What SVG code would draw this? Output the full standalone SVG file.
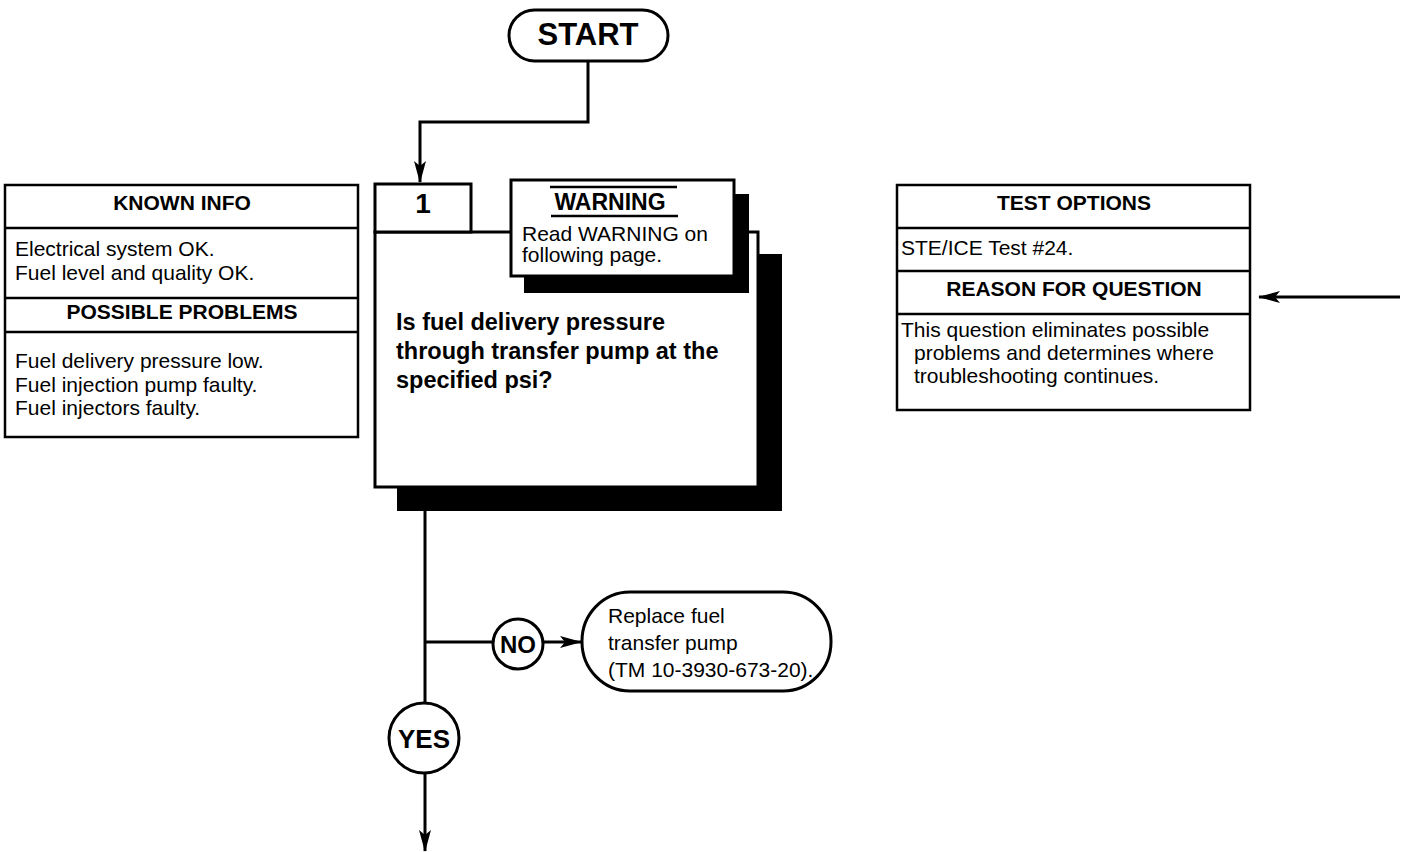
<svg xmlns="http://www.w3.org/2000/svg" width="1404" height="852" viewBox="0 0 1404 852">
  <defs>
    <style>
      text { font-family: "Liberation Sans", Arial, Helvetica, sans-serif; fill: #000; }
      .body { font-size: 21px; }
      .hdr { font-size: 21px; font-weight: bold; text-anchor: middle; }
      .q { font-size: 23.5px; font-weight: bold; }
      .box { fill: #fff; stroke: #000; stroke-width: 2.5; }
      .thick { fill: #fff; stroke: #000; stroke-width: 3; }
      .shadow { fill: #000; stroke: none; }
      .wire { fill: none; stroke: #000; stroke-width: 3; }
      .rule { stroke: #000; stroke-width: 2.5; }
    </style>
    <marker id="arrow" viewBox="0 0 22 12" markerWidth="22" markerHeight="12" refX="21" refY="6" orient="auto" markerUnits="userSpaceOnUse">
      <path d="M0,0 L22,6 L0,12 L5,6 z" fill="#000"/>
    </marker>
  </defs>

  <rect width="1404" height="852" fill="#fff"/>

  <!-- connectors -->
  <g id="connectors">
    <polyline class="wire" points="588,61 588,122 420,122 420,182" marker-end="url(#arrow)"/>
    <line class="wire" x1="425" y1="487" x2="425" y2="703"/>
    <line class="wire" x1="425" y1="642" x2="493" y2="642"/>
    <line class="wire" x1="543" y1="642" x2="581" y2="642" marker-end="url(#arrow)"/>
    <line class="wire" x1="425" y1="773" x2="425" y2="851" marker-end="url(#arrow)"/>
    <line class="wire" x1="1400" y1="297" x2="1259" y2="297" stroke-width="2.5" marker-end="url(#arrow)"/>
  </g>

  <!-- start terminal -->
  <g id="start">
    <rect class="thick" x="509" y="10" width="159" height="51" rx="25.5" ry="25.5"/>
    <text x="588" y="45" font-size="31" font-weight="bold" text-anchor="middle">START</text>
  </g>

  <!-- question 1 with drop shadow -->
  <g id="q1">
    <rect class="shadow" x="397" y="254" width="385" height="257"/>
    <rect class="thick" x="375" y="232" width="383" height="255"/>
    <rect class="thick" x="375" y="184" width="96" height="48"/>
    <text x="423" y="213" font-size="28" font-weight="bold" text-anchor="middle">1</text>
    <text class="q" x="396" y="330">Is fuel delivery pressure</text>
    <text class="q" x="396" y="359">through transfer pump at the</text>
    <text class="q" x="396" y="388">specified psi?</text>
  </g>

  <!-- warning callout -->
  <g id="warning">
    <rect class="shadow" x="524" y="194" width="225" height="99"/>
    <rect class="thick" x="511" y="180" width="223" height="96"/>
    <line class="rule" x1="550" y1="187" x2="677" y2="187"/>
    <text x="610" y="210" font-size="23" font-weight="bold" text-anchor="middle">WARNING</text>
    <line class="rule" x1="551" y1="216" x2="678" y2="216"/>
    <text class="body" x="522" y="241">Read WARNING on</text>
    <text class="body" x="522" y="262">following page.</text>
  </g>

  <!-- known info / possible problems -->
  <g id="known-info">
    <rect class="box" x="5" y="185" width="353" height="252"/>
    <line class="rule" x1="5" y1="228" x2="358" y2="228"/>
    <line class="rule" x1="5" y1="298" x2="358" y2="298"/>
    <line class="rule" x1="5" y1="332" x2="358" y2="332"/>
    <text class="hdr" x="182" y="210">KNOWN INFO</text>
    <text class="body" x="15" y="256">Electrical system OK.</text>
    <text class="body" x="15" y="280">Fuel level and quality OK.</text>
    <text class="hdr" x="182" y="319">POSSIBLE PROBLEMS</text>
    <text class="body" x="15" y="368">Fuel delivery pressure low.</text>
    <text class="body" x="15" y="392">Fuel injection pump faulty.</text>
    <text class="body" x="15" y="415">Fuel injectors faulty.</text>
  </g>

  <!-- test options / reason for question -->
  <g id="test-options">
    <rect class="box" x="897" y="185" width="353" height="225"/>
    <line class="rule" x1="897" y1="228" x2="1250" y2="228"/>
    <line class="rule" x1="897" y1="271" x2="1250" y2="271"/>
    <line class="rule" x1="897" y1="314" x2="1250" y2="314"/>
    <text class="hdr" x="1074" y="210">TEST OPTIONS</text>
    <text class="body" x="901" y="255">STE/ICE Test #24.</text>
    <text class="hdr" x="1074" y="296">REASON FOR QUESTION</text>
    <text class="body" x="901" y="337">This question eliminates possible</text>
    <text class="body" x="914" y="360">problems and determines where</text>
    <text class="body" x="914" y="383">troubleshooting continues.</text>
  </g>

  <!-- NO branch label -->
  <g id="no-label">
    <circle class="thick" cx="518" cy="644" r="25"/>
    <text x="518" y="653" font-size="24" font-weight="bold" text-anchor="middle">NO</text>
  </g>

  <!-- corrective action -->
  <g id="replace-pump">
    <rect class="thick" x="582" y="592" width="249" height="99" rx="48" ry="49"/>
    <text class="body" x="608" y="623">Replace fuel</text>
    <text class="body" x="608" y="650">transfer pump</text>
    <text class="body" x="608" y="677">(TM 10-3930-673-20).</text>
  </g>

  <!-- YES branch label -->
  <g id="yes-label">
    <circle class="thick" cx="424" cy="738" r="35"/>
    <text x="424" y="748" font-size="26" font-weight="bold" text-anchor="middle">YES</text>
  </g>
</svg>
